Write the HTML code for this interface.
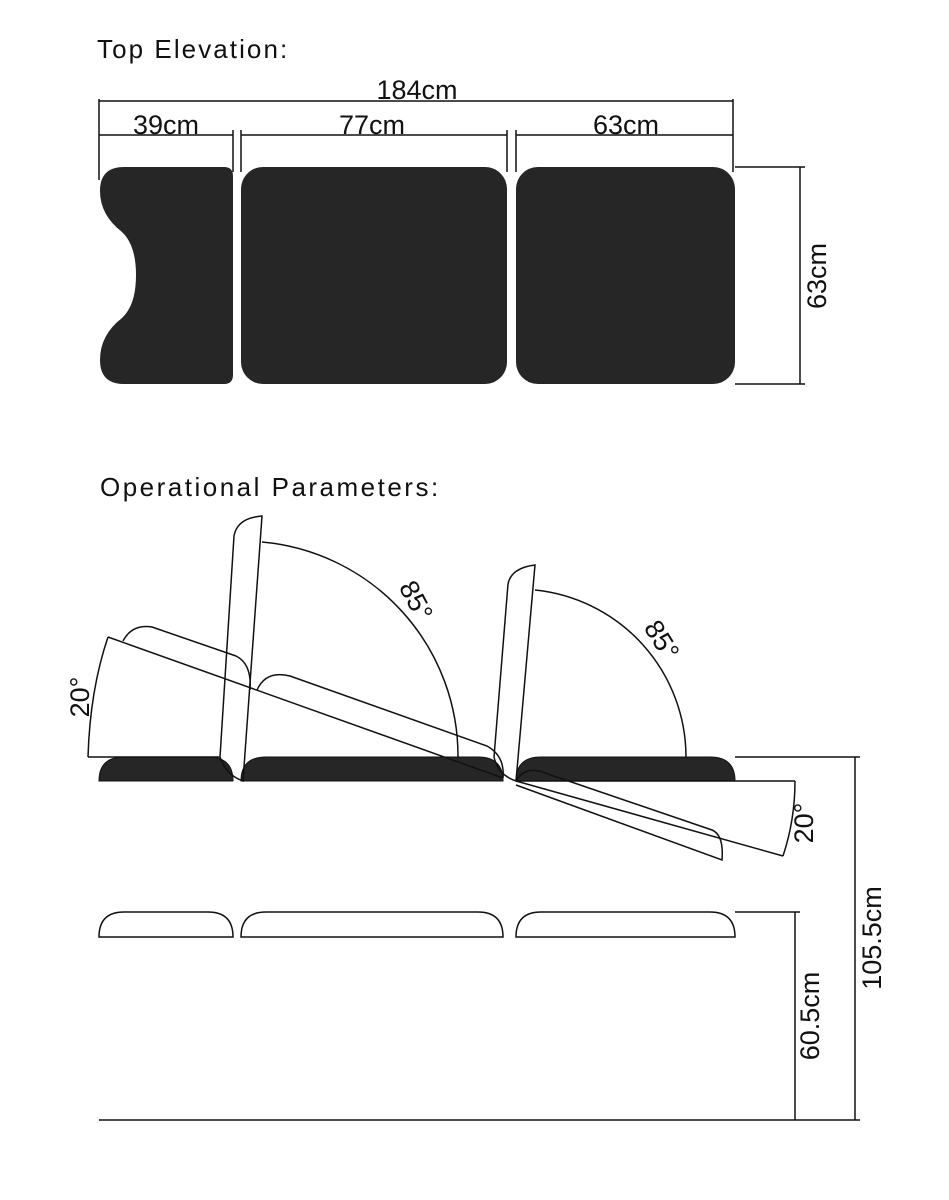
<!DOCTYPE html>
<html><head><meta charset="utf-8"><style>
html,body{margin:0;padding:0;background:#fff}
svg{display:block}
text{font-family:"Liberation Sans",sans-serif;fill:#111}
.t{font-size:26px;letter-spacing:1.8px}
.d{font-size:27px}
</style></head><body>
<svg width="949" height="1200" viewBox="0 0 949 1200" xmlns="http://www.w3.org/2000/svg">
<g fill="none" stroke="#111" stroke-width="1.5">
<line x1="99" y1="101" x2="733" y2="101"/>
<line x1="99" y1="99" x2="99" y2="180"/>
<line x1="733" y1="99" x2="733" y2="172"/>
<line x1="99" y1="135" x2="233" y2="135"/>
<line x1="241" y1="135" x2="507" y2="135"/>
<line x1="516" y1="135" x2="733" y2="135"/>
<line x1="233" y1="130" x2="233" y2="172"/>
<line x1="241" y1="130" x2="241" y2="172"/>
<line x1="507" y1="130" x2="507" y2="172"/>
<line x1="516" y1="130" x2="516" y2="172"/>
<line x1="735" y1="167" x2="805" y2="167"/>
<line x1="735" y1="384" x2="805" y2="384"/>
<line x1="800" y1="167" x2="800" y2="384"/>
</g>
<g fill="#262626">
<path d="M124,167 H224 Q233,167 233,176 V375 Q233,384 224,384 H124 Q100,384 100,360 Q100,335 122,318 Q136,305 136,275 Q136,245 122,232 Q100,215 100,191 Q100,167 124,167 Z"/>
<rect x="241" y="167" width="266" height="217" rx="22"/>
<rect x="516" y="167" width="219" height="217" rx="22"/>
</g>
<text x="97" y="58" class="t" textLength="192">Top Elevation:</text>
<text x="417" y="99" class="d" text-anchor="middle">184cm</text>
<text x="166" y="134" class="d" text-anchor="middle">39cm</text>
<text x="372" y="134" class="d" text-anchor="middle">77cm</text>
<text x="626" y="134" class="d" text-anchor="middle">63cm</text>
<text transform="translate(826,276) rotate(-90)" class="d" text-anchor="middle">63cm</text>

<text x="100" y="496" class="t" textLength="340">Operational Parameters:</text>

<g fill="#262626" stroke="#111" stroke-width="1">
<path d="M99,781 Q99,757 124,757 H208 Q233,757 233,781 Z"/>
<path d="M241,781 Q241,757 266,757 H478 Q503,757 503,781 Z"/>
<path d="M516,781 Q516,757 541,757 H710 Q735,757 735,781 Z"/>
</g>
<g fill="none" stroke="#111" stroke-width="1.5">
<line x1="88" y1="757" x2="220" y2="757"/>
<path d="M88,757 Q90,690 108,637"/>
<line x1="108" y1="637" x2="503" y2="778"/>
<path d="M123,641 Q132,624 152,627 L236,656 Q252,664 250,690"/>
<path d="M257,690 Q266,670 290,676 L487,746 Q505,756 503,778"/>
<path d="M220,757 L234,536 Q237,518 262,516 L243,781 Q226,775 220,757 Z"/>
<path d="M262,542 A215,215 0 0 1 458,757"/>
<path d="M494,757 L508,584 Q511,568 535,565 L516,781 Q498,775 494,757 Z"/>
<path d="M535,590 A168,168 0 0 1 686,757"/>
<line x1="516" y1="781" x2="795" y2="781"/>
<line x1="516" y1="781" x2="783" y2="856"/>
<path d="M795,781 Q795,820 783,856"/>
<path d="M516,785 L722,860 Q724,835 712,830 L545,773 Q525,765 516,781"/>
<line x1="735" y1="757" x2="860" y2="757"/>
<line x1="855" y1="757" x2="855" y2="1120"/>
<line x1="735" y1="912" x2="800" y2="912"/>
<line x1="795" y1="912" x2="795" y2="1120"/>
<line x1="99" y1="1120" x2="860" y2="1120"/>
<path d="M99,937 Q99,912 124,912 H208 Q233,912 233,937 Z"/>
<path d="M241,937 Q241,912 266,912 H478 Q503,912 503,937 Z"/>
<path d="M516,937 Q516,912 541,912 H710 Q735,912 735,937 Z"/>
</g>
<text transform="translate(408,605) rotate(62)" class="d" text-anchor="middle">85°</text>
<text transform="translate(654,645) rotate(58)" class="d" text-anchor="middle">85°</text>
<text transform="translate(89,697) rotate(-90)" class="d" text-anchor="middle">20°</text>
<text transform="translate(813,823) rotate(-90)" class="d" text-anchor="middle">20°</text>
<text transform="translate(881,938) rotate(-90)" class="d" text-anchor="middle">105.5cm</text>
<text transform="translate(819,1016) rotate(-90)" class="d" text-anchor="middle">60.5cm</text>
</svg>
</body></html>
